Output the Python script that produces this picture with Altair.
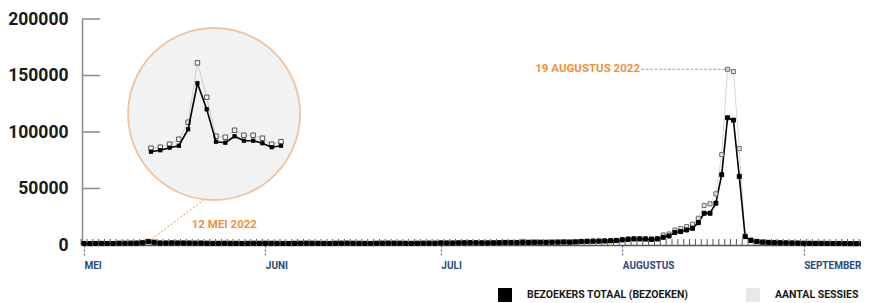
import altair as alt
import pandas as pd

# ---------------- data ----------------
dates = [d.strftime("%Y-%m-%dT00:00:00Z") for d in pd.date_range("2022-05-01", "2022-09-12", freq="D")]

visitors = (
    # May
    [1300, 1250, 1350, 1400, 1350, 1300,
     1500, 1530, 1580, 1620, 1950, 2870, 2350, 1700, 1680, 1810, 1720, 1720, 1670, 1590, 1620,
     1500, 1400, 1450, 1500, 1450, 1400, 1350, 1450, 1500, 1450]
    # June
    + [1500, 1450, 1400, 1350, 1300, 1450, 1500, 1550, 1500, 1450, 1400, 1350, 1500, 1550, 1600,
       1500, 1450, 1400, 1350, 1500, 1550, 1600, 1550, 1500, 1450, 1400, 1500, 1550, 1600, 1550]
    # July
    + [1800, 1750, 1700, 1850, 1900, 1950, 1900, 1850, 1800, 1900, 2000, 2200, 2150, 2100, 2200,
       2300, 2400, 2350, 2300, 2400, 2500, 2600, 2500, 2700, 3000, 3200, 3300, 3400, 3500, 3700, 3900]
    # August
    + [4500, 5000, 5300, 5300, 5200, 5000, 5300, 6800, 8000, 11000, 11900, 13300, 14800, 19800, 28100,
       28100, 37000, 62200, 112600, 110500, 60700, 7400, 4000, 3000, 2500, 2200, 2000, 1900, 1800, 1700, 1600]
    # September
    + [1500, 1450, 1400, 1400, 1350, 1300, 1300, 1250, 1200, 1200, 1150, 1100]
)

sessions = (
    [1400, 1350, 1450, 1500, 1450, 1400,
     1570, 1590, 1650, 1750, 2090, 3280, 2590, 1810, 1790, 1930, 1830, 1830, 1770, 1650, 1700,
     1600, 1500, 1550, 1600, 1550, 1500, 1450, 1550, 1600, 1550]
    + [1600, 1550, 1500, 1450, 1400, 1550, 1600, 1650, 1600, 1550, 1500, 1450, 1600, 1650, 1700,
       1600, 1550, 1500, 1450, 1600, 1650, 1700, 1650, 1600, 1550, 1500, 1600, 1650, 1700, 1650]
    + [1950, 1900, 1850, 2000, 2050, 2100, 2050, 2000, 1950, 2050, 2150, 2400, 2350, 2300, 3300,
       2500, 2600, 2550, 2500, 2600, 2700, 2800, 2700, 2900, 3300, 3500, 3600, 3700, 3800, 4000, 4200]
    + [5000, 5500, 5800, 5800, 5700, 5500, 5900, 8900, 9800, 13300, 14500, 16300, 18400, 23700, 35000,
       36400, 45300, 80000, 155500, 153500, 85300, 8000, 4500, 3300, 2800, 2500, 2300, 2100, 2000, 1900, 1800]
    + [1600, 1550, 1500, 1500, 1450, 1400, 1400, 1350, 1300, 1300, 1250, 1200]
)

S_VIS = "BEZOEKERS TOTAAL (BEZOEKEN)"
S_SES = "AANTAL SESSIES"
series_names = [S_VIS, S_SES]

y_ticks = [0, 50000, 100000, 150000, 200000]
month_numbers = [5, 6, 7, 8, 9]
month_labels = ["MEI", "JUNI", "JULI", "AUGUSTUS", "SEPTEMBER"]

inset_first = "2022-05-07T00:00:00Z"
inset_last = "2022-05-21T00:00:00Z"

peak_label = "19 AUGUSTUS 2022"
peak_line_dates = ["2022-08-04T05:00:00Z", "2022-08-19T00:00:00Z"]
peak_line_value = 155500

may_label = "12 MEI 2022"
may_label_date = "2022-05-25T00:00:00Z"
may_label_value = 17800
leader_dates = ["2022-05-12T00:00:00Z", "2022-05-21T12:00:00Z"]
leader_values = [2870, 40000]

circle_date = "2022-05-13T19:00:00Z"
circle_value = 2255

# ---------------- styles ----------------
FONT = "Roboto, Liberation Sans, sans-serif"
ORANGE = "#f0913a"
BLUE = "#2c4c7c"

n = len(dates)
df = pd.DataFrame({
    "date": dates * 2,
    "value": sessions + visitors,
    "series": [S_SES] * n + [S_VIS] * n,
})
df_vis = df[df.series == S_VIS]
df_ses = df[df.series == S_SES]
df_inset = df[(df.date >= inset_first) & (df.date <= inset_last)]

x_scale = alt.Scale(
    type="utc",
    domain=[alt.DateTime(year=2022, month=4, date=30, hours=16, utc=True),
            alt.DateTime(year=2022, month=9, date=10, hours=19, minutes=20, utc=True)],
    nice=False,
)
y_scale = alt.Scale(domain=[0, 200000], nice=False)

label_expr = "[" + ",".join("'%s'" % m for m in month_labels) + "][utcmonth(datum.value)-%d]" % (month_numbers[0] - 1)

x_axis = alt.Axis(
    values=[alt.DateTime(year=2022, month=m, date=1, utc=True) for m in month_numbers],
    labelExpr=label_expr, title=None, grid=False,
    tickSize=12, tickDash=[2, 2], tickColor="#4a6a9c", tickWidth=1.2,
    labelAlign="left", labelBaseline="top", labelPadding=3,
    labelFont=FONT, labelFontSize=10, labelFontWeight="bold", labelColor=BLUE,
    labelFlush=False, labelOverlap=False,
    domainColor="#555555", domainWidth=1.5,
)
y_axis = alt.Axis(
    values=y_ticks, format="d", title=None, grid=False, tickSize=0, labelPadding=14,
    labelFont=FONT, labelFontSize=17.5, labelFontWeight="bold", labelColor="#1a1a1a",
    domainColor="#8a8a8a", domainWidth=1.5, labelOverlap=False,
)

def X(field):
    return alt.X(field, scale=x_scale, axis=x_axis, title=None)

def Y(field):
    return alt.Y(field, scale=y_scale, axis=y_axis, title=None)

# daily tick marks along the x axis
ticks_df = pd.DataFrame({"date": dates, "zero": [0] * n})
day_ticks = alt.Chart(ticks_df).mark_tick(
    orient="vertical", size=6, thickness=1, color="#555555", opacity=1, yOffset=-3, xOffset=-2.9
).encode(x=X("date:T"), y=Y("zero:Q"))

# inward y ticks
ytick_df = pd.DataFrame({
    "x0": ["2022-04-30T16:00:00Z"] * (len(y_ticks) - 1),
    "x1": ["2022-05-03T18:00:00Z"] * (len(y_ticks) - 1),
    "value": y_ticks[1:],
})
y_inner = alt.Chart(ytick_df).mark_rule(color="#8a8a8a", strokeWidth=1.5).encode(
    x=X("x0:T"), x2="x1:T", y=Y("value:Q")
)

ses_line = alt.Chart(df_ses).mark_line(color="#d6d6d6", strokeWidth=1).encode(
    x=X("date:T"), y=Y("value:Q")
)
vis_line = alt.Chart(df_vis).mark_line(color="#000000", strokeWidth=1.6).encode(
    x=X("date:T"), y=Y("value:Q")
)
points = alt.Chart(df).mark_square(filled=True, size=16, strokeWidth=1, opacity=1).encode(
    x=X("date:T"), y=Y("value:Q"),
    fill=alt.Fill("series:N", scale=alt.Scale(domain=series_names, range=["#000000", "#e8e8e8"]),
                  legend=alt.Legend(
                      orient="none", legendX=416, legendY=269, direction="horizontal", title=None,
                      symbolType="square", symbolSize=196, symbolStrokeWidth=0, symbolOpacity=1,
                      labelFont=FONT, labelFontSize=10.5, labelFontWeight="bold", labelColor="#1a1a1a",
                      labelOffset=15, columnPadding=57, labelLimit=400, padding=0,
                  )),
    stroke=alt.Stroke("series:N", scale=alt.Scale(domain=series_names, range=["#000000", "#6a6a6a"]),
                      legend=None),
)

# annotations
leader_df = pd.DataFrame({"date": leader_dates, "value": leader_values})
leader = alt.Chart(leader_df).mark_line(color=ORANGE, strokeDash=[2, 2], strokeWidth=1).encode(
    x=X("date:T"), y=Y("value:Q")
)
may_df = pd.DataFrame({"date": [may_label_date], "value": [may_label_value], "text": [may_label]})
may_text = alt.Chart(may_df).mark_text(
    font=FONT, fontSize=11.5, fontWeight="bold", color=ORANGE, align="center", baseline="middle"
).encode(x=X("date:T"), y=Y("value:Q"), text="text:N")

peak_df = pd.DataFrame({"date": [peak_line_dates[0]], "date2": [peak_line_dates[1]],
                        "value": [peak_line_value], "text": [peak_label]})
peak_rule = alt.Chart(peak_df).mark_rule(color=ORANGE, strokeDash=[3, 1.5], strokeWidth=1).encode(
    x=X("date:T"), x2="date2:T", y=Y("value:Q")
)
peak_text = alt.Chart(peak_df).mark_text(
    font=FONT, fontSize=11.5, fontWeight="bold", color=ORANGE, align="right", baseline="middle", dx=-1
).encode(x=X("date:T"), y=Y("value:Q"), text="text:N")

main = alt.layer(day_ticks, y_inner, leader, ses_line, vis_line, points,
                 may_text, peak_rule, peak_text)

# ---------------- inset (zoom on 12 mei) ----------------
ix_scale = alt.Scale(type="utc",
                     domain=[alt.DateTime(year=2022, month=5, date=7, utc=True),
                             alt.DateTime(year=2022, month=5, date=21, utc=True)],
                     range=[69, 199], nice=False)
iy_scale = alt.Scale(domain=[1500, 2870], range=[132.7, 64.3], zero=False, nice=False)

def IX(field):
    return alt.X(field, scale=ix_scale, axis=None, title=None)

def IY(field):
    return alt.Y(field, scale=iy_scale, axis=None, title=None)

circle_df = pd.DataFrame({"date": [circle_date], "value": [circle_value]})
circle = alt.Chart(circle_df).mark_point(
    shape="circle", size=29584, filled=True, fill="#f2f2f2", stroke="#f4c29a",
    strokeWidth=1.8, opacity=1
).encode(x=IX("date:T"), y=IY("value:Q"))

inset_ses = df_inset[df_inset.series == S_SES]
inset_vis = df_inset[df_inset.series == S_VIS]
i_ses_line = alt.Chart(inset_ses).mark_line(color="#cfcfcf", strokeWidth=1).encode(
    x=IX("date:T"), y=IY("value:Q"))
i_ses_pts = alt.Chart(inset_ses).mark_square(
    size=20, filled=True, fill="#f4f4f4", stroke="#555555", strokeWidth=1, opacity=1
).encode(x=IX("date:T"), y=IY("value:Q"))
i_vis_line = alt.Chart(inset_vis).mark_line(color="#000000", strokeWidth=1.6).encode(
    x=IX("date:T"), y=IY("value:Q"))
i_vis_pts = alt.Chart(inset_vis).mark_square(size=18, filled=True, color="#000000", opacity=1).encode(
    x=IX("date:T"), y=IY("value:Q"))

inset = alt.layer(circle, i_ses_line, i_ses_pts, i_vis_line, i_vis_pts)

chart = alt.layer(main, inset).resolve_scale(x="independent", y="independent").properties(
    width=779, height=226,
    autosize=alt.AutoSizeParams(type="none"),
    padding={"left": 74, "top": 11, "right": 0, "bottom": 58},
).configure_view(stroke=None)

chart.save("out.html", embed_options={"renderer": "svg", "actions": False})
